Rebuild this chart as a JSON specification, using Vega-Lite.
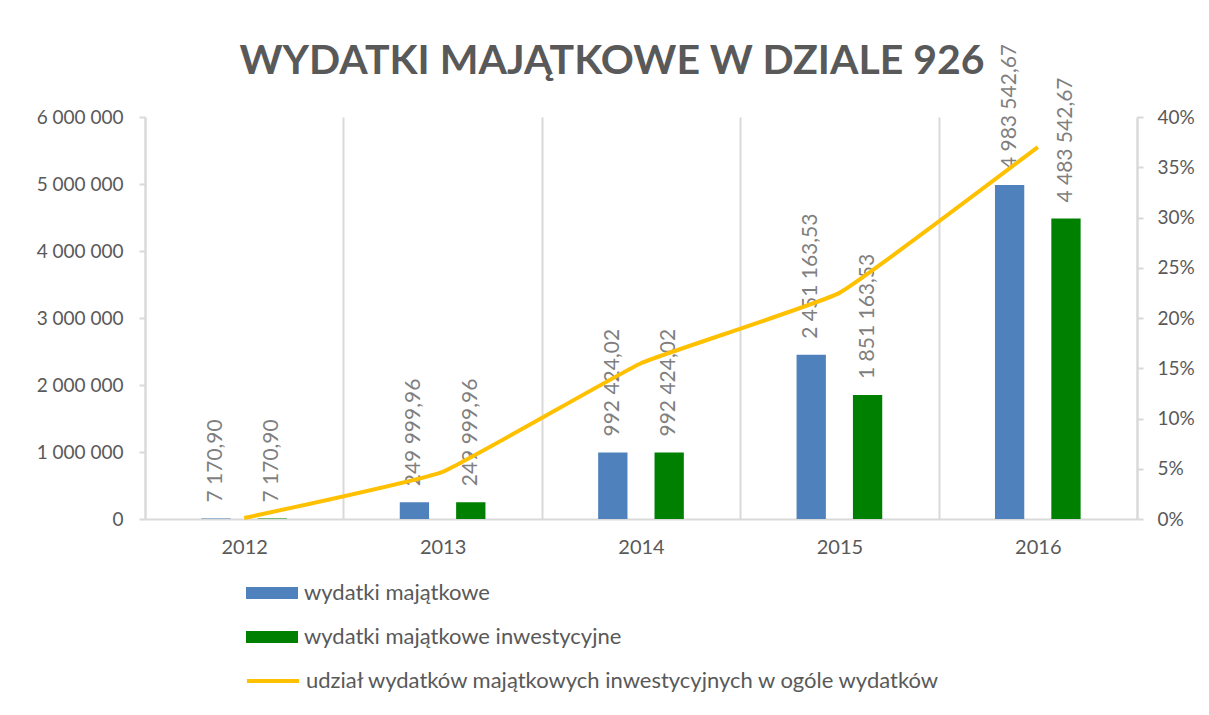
{
  "$schema": "https://vega.github.io/schema/vega-lite/v6.json",
  "width": 992,
  "height": 402,
  "autosize": {"type": "none"},
  "padding": {"left": 145, "top": 117, "right": 72, "bottom": 196},
  "background": "white",
  "config": {
    "locale": {"number": {"decimal": ",", "thousands": " ", "grouping": [3], "currency": ["", " zł"]}},
    "font": "Lato",
    "view": {"stroke": null},
    "axis": {"labelFont": "Lato", "labelColor": "#595959", "labelFontSize": 19, "domainColor": "#d9d9d9", "tickColor": "#d9d9d9", "gridColor": "#d9d9d9"},
    "legend": {"labelFont": "Lato", "labelColor": "#595959", "labelFontSize": 22, "labelLimit": 900}
  },
  "title": {
    "text": "WYDATKI  MAJĄTKOWE  W  DZIALE  926",
    "fontSize": 41,
    "fontWeight": "bold",
    "color": "#595959",
    "font": "Lato",
    "frame": "group",
    "anchor": "middle",
    "baseline": "bottom",
    "offset": 38,
    "dy": 118,
    "dx": -29
  },
  "datasets": {
    "bars": [
      {"year": "2012", "series": "wydatki majątkowe", "value": 7170.90},
      {"year": "2012", "series": "wydatki majątkowe inwestycyjne", "value": 7170.90},
      {"year": "2013", "series": "wydatki majątkowe", "value": 249999.96},
      {"year": "2013", "series": "wydatki majątkowe inwestycyjne", "value": 249999.96},
      {"year": "2014", "series": "wydatki majątkowe", "value": 992424.02},
      {"year": "2014", "series": "wydatki majątkowe inwestycyjne", "value": 992424.02},
      {"year": "2015", "series": "wydatki majątkowe", "value": 2451163.53},
      {"year": "2015", "series": "wydatki majątkowe inwestycyjne", "value": 1851163.53},
      {"year": "2016", "series": "wydatki majątkowe", "value": 4983542.67},
      {"year": "2016", "series": "wydatki majątkowe inwestycyjne", "value": 4483542.67}
    ],
    "share": [
      {"year": "2012", "series": "udział wydatków majątkowych inwestycyjnych w ogóle wydatków", "share": 0.001},
      {"year": "2013", "series": "udział wydatków majątkowych inwestycyjnych w ogóle wydatków", "share": 0.047},
      {"year": "2014", "series": "udział wydatków majątkowych inwestycyjnych w ogóle wydatków", "share": 0.155},
      {"year": "2015", "series": "udział wydatków majątkowych inwestycyjnych w ogóle wydatków", "share": 0.225},
      {"year": "2016", "series": "udział wydatków majątkowych inwestycyjnych w ogóle wydatków", "share": 0.37}
    ]
  },
  "layer": [
    {
      "data": {"name": "bars"},
      "encoding": {
        "x": {
          "field": "year", "type": "ordinal",
          "scale": {"paddingInner": 0, "paddingOuter": 0},
          "axis": {"title": null, "labelAngle": 0, "grid": true, "tickBand": "extent", "ticks": false, "domainWidth": 2, "gridWidth": 2, "labelPadding": 18, "labelFontSize": 20}
        },
        "xOffset": {
          "field": "series", "type": "nominal",
          "sort": ["wydatki majątkowe", "wydatki majątkowe inwestycyjne"],
          "scale": {"paddingInner": 0.48, "paddingOuter": 1.144}
        },
        "y": {
          "field": "value", "type": "quantitative",
          "scale": {"domain": [0, 6000000]},
          "axis": {"title": null, "format": ",d", "values": [0, 1000000, 2000000, 3000000, 4000000, 5000000, 6000000], "grid": false, "domainWidth": 2, "tickSize": 6, "tickWidth": 2, "labelPadding": 16}
        }
      },
      "layer": [
        {
          "mark": {"type": "bar"},
          "encoding": {
            "fill": {
              "field": "series", "type": "nominal",
              "scale": {"domain": ["wydatki majątkowe", "wydatki majątkowe inwestycyjne"], "range": ["#4F81BD", "#008000"]},
              "legend": {"orient": "none", "legendX": 101, "legendY": 450, "direction": "vertical", "title": null, "symbolType": "M-1,-0.23H1V0.23H-1Z", "symbolSize": 2704, "symbolStrokeWidth": 0, "rowPadding": 7, "labelOffset": 6}
            }
          }
        },
        {
          "mark": {"type": "text", "angle": 270, "align": "left", "baseline": "middle", "dx": 16, "fontSize": 21, "color": "#7f7f7f", "font": "Lato"},
          "encoding": {
            "text": {"field": "value", "type": "quantitative", "format": ",.2f"}
          }
        }
      ]
    },
    {
      "data": {"name": "share"},
      "mark": {"type": "line", "interpolate": "cardinal", "tension": 0.7, "strokeWidth": 4},
      "encoding": {
        "x": {"field": "year", "type": "ordinal"},
        "y": {
          "field": "share", "type": "quantitative",
          "scale": {"domain": [0, 0.4]},
          "axis": {"orient": "right", "title": null, "format": ".0%", "values": [0, 0.05, 0.1, 0.15, 0.2, 0.25, 0.3, 0.35, 0.4], "grid": false, "domainWidth": 2, "tickSize": 6, "tickWidth": 2, "labelPadding": 14}
        },
        "stroke": {
          "field": "series", "type": "nominal",
          "scale": {"domain": ["udział wydatków majątkowych inwestycyjnych w ogóle wydatków"], "range": ["#FFC000"]},
          "legend": {"orient": "none", "legendX": 100, "legendY": 536, "title": null, "symbolType": "stroke", "symbolSize": 2704, "symbolStrokeWidth": 4, "labelOffset": 5}
        }
      }
    }
  ],
  "resolve": {"scale": {"y": "independent"}}
}
